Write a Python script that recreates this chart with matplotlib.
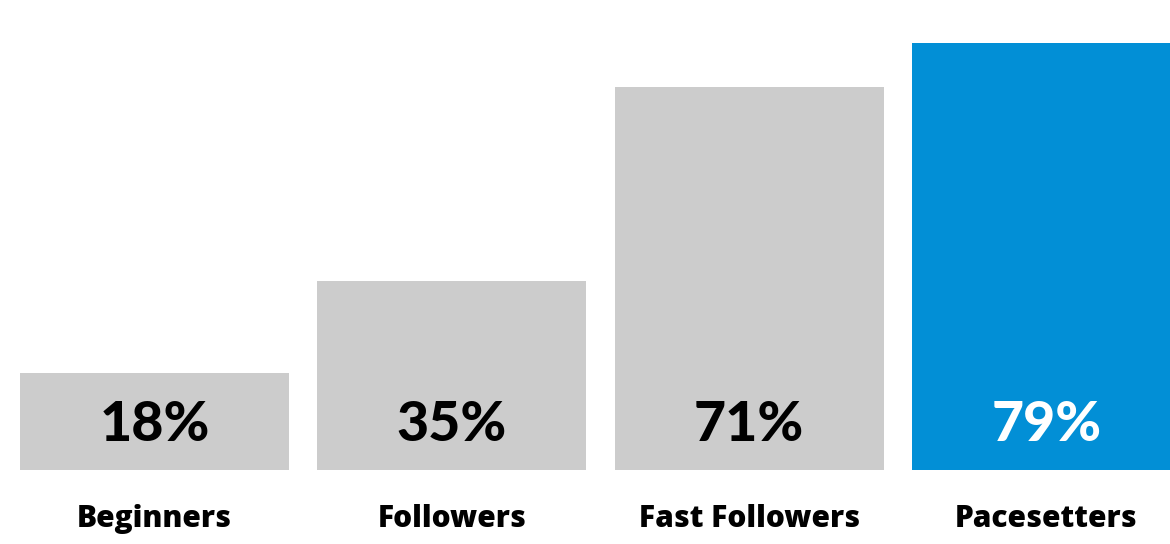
import matplotlib
matplotlib.use("Agg")
import matplotlib.pyplot as plt
import matplotlib.transforms as mtransforms

categories = ["Beginners", "Followers", "Fast Followers", "Pacesetters"]
values = [18, 35, 71, 79]
labels = ["18%", "35%", "71%", "79%"]
colors = ["#cccccc", "#cccccc", "#cccccc", "#028fd6"]
text_colors = ["#000000", "#000000", "#000000", "#ffffff"]

W, H = 1170, 544
fig = plt.figure(figsize=(W / 100, H / 100), dpi=100)
base_px = 74  # baseline from bottom
ax = fig.add_axes([0, base_px / H, 1, 1 - base_px / H])
pitch = 297.3
c0 = 154.5
ax.set_xlim(-c0 / pitch, (W - c0) / pitch)
ax.set_ylim(0, (H - base_px) / 5.4)
ax.axis("off")

x = list(range(len(categories)))
ax.bar(x, values, width=269 / pitch, color=colors, linewidth=0)

trans = mtransforms.blended_transform_factory(ax.transData, fig.transFigure)
pfont = dict(family=["Lato", "DejaVu Sans"], fontweight="black")
cfont = dict(family=["Open Sans", "DejaVu Sans"], fontweight=800)
for xi, lab, tc, cat in zip(x, labels, text_colors, categories):
    ax.text(xi, 103 / H, lab, transform=trans, ha="center", va="baseline",
            fontsize=40, color=tc, **pfont)
    ax.text(xi, 17 / H, cat, transform=trans, ha="center", va="baseline",
            fontsize=21.5, color="#000000", clip_on=False, **cfont)

fig.savefig("out.png", dpi=100)
